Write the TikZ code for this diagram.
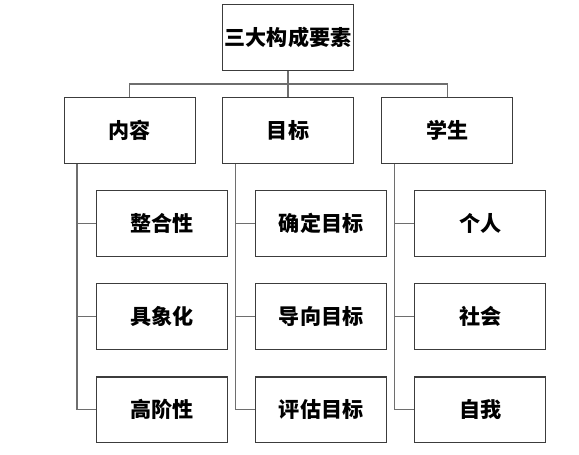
\documentclass[tikz,border=0pt]{standalone}
\usepackage{fontspec}
\newfontfamily\cjk{Noto Sans CJK SC}
\usetikzlibrary{positioning}
\definecolor{boxline}{HTML}{3C3C3C}
\definecolor{linkline}{HTML}{6E6E6E}
\tikzset{
  box/.style={draw=boxline, line width=1pt, fill=white, minimum width=3.93cm,
    minimum height=1.965cm, inner sep=0pt, font=\cjk\bfseries\fontsize{18}{20}\selectfont},
  link/.style={draw=linkline, line width=1pt}
}

\begin{document}
\begin{tikzpicture}[x=0.03cm, y=-0.03cm]
  \useasboundingbox (0,0) rectangle (579,455);
  % top
  \node[box] (root) at (288,37.4) {三大构成要素};
  % second level
  \node[box] (content) at (129.6,130.5) {内容};
  \node[box] (goal)    at (288,130.5)   {目标};
  \node[box] (student) at (447.3,130.5) {学生};
  % leaves
  \node[box] (content1) at (162.2,223.5) {整合性};
  \node[box] (content2) at (162.2,316.5) {具象化};
  \node[box] (content3) at (162.2,409.8) {高阶性};
  \node[box] (goal1) at (321.1,223.5) {确定目标};
  \node[box] (goal2) at (321.1,316.5) {导向目标};
  \node[box] (goal3) at (321.1,409.8) {评估目标};
  \node[box] (student1) at (480.2,223.5) {个人};
  \node[box] (student2) at (480.2,316.5) {社会};
  \node[box] (student3) at (480.2,409.8) {自我};
  % connectors
  \coordinate (bus) at (288,84);
  \draw[link] (root.south) -- (goal.north);
  \draw[link] (content.north) |- (bus) -| (student.north);
  \foreach \col in {content, goal, student} {
    \coordinate (\col trunk) at ([xshift=13.5*0.03cm]\col.south west);
    \draw[link] (\col trunk) |- (\col3.west);
    \foreach \i in {1,2}
      \draw[link] (\col trunk |- \col\i.west) -- (\col\i.west);
  }
\end{tikzpicture}
\end{document}
